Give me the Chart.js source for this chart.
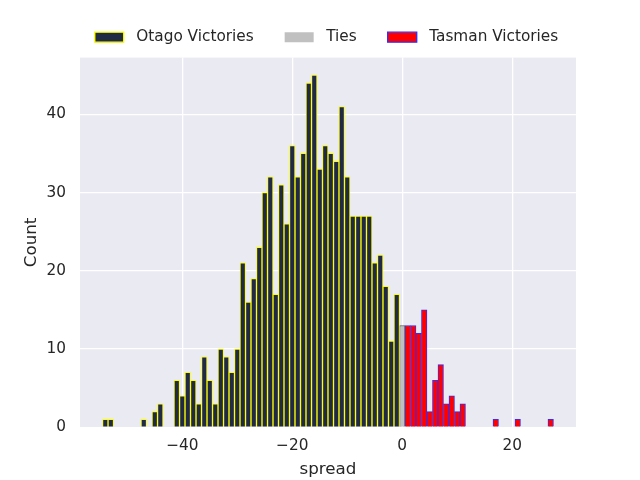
<!DOCTYPE html>
<html>
<head>
<meta charset="utf-8">
<script src="https://cdn.jsdelivr.net/npm/chart.js@4.4.0/dist/chart.umd.min.js"></script>
<style>
  html, body { margin: 0; padding: 0; background: #ffffff; }
  canvas { display: block; }
</style>
</head>
<body>
<canvas id="spreadChart" width="640" height="480"></canvas>
<script>
// --- Data (counts per spread) ---
const otagoSpreads = [-54, -53, -47, -45, -44,
  -41, -40, -39, -38, -37, -36, -35, -34, -33, -32, -31, -30,
  -29, -28, -27, -26, -25, -24, -23, -22, -21, -20,
  -19, -18, -17, -16, -15, -14, -13, -12, -11, -10,
  -9, -8, -7, -6, -5, -4, -3, -2, -1];
const otagoCounts = [1, 1, 1, 2, 3,
  6, 4, 7, 6, 3, 9, 6, 3, 10, 9, 7, 10,
  21, 16, 19, 23, 30, 32, 17, 31, 26, 36,
  32, 35, 44, 45, 33, 36, 35, 34, 41, 32,
  27, 27, 27, 27, 21, 22, 18, 11, 17];
const tieSpreads = [0];
const tieCounts = [13];
const tasmanSpreads = [1, 2, 3, 4, 5, 6, 7, 8, 9, 10, 11, 17, 21, 27];
const tasmanCounts = [13, 13, 12, 15, 2, 6, 8, 3, 4, 2, 3, 1, 1, 1];

const xTicks = [-40, -20, 0, 20];
const yTicks = [0, 10, 20, 30, 40];

// axis limits (matplotlib style 5% margins)
const xMin = -58.6, xMax = 31.6;
const yMin = 0, yMax = 47.25;

// --- Layout ---
const legendHeight = 57.6;
const legendShiftY = -1.5;
const textColor = '#262626';

const toPoints = (xs, ys) => xs.map((x, i) => ({ x: x, y: ys[i] }));
const minusSign = v => (v < 0 ? '\u2212' + Math.abs(v) : String(v));

Chart.defaults.font.family = 'DejaVu Sans';
Chart.defaults.color = textColor;

// grey plot panel like seaborn darkgrid
const plotBackground = {
    id: 'plotBackground',
    beforeDraw(chart) {
        const { ctx, chartArea: a } = chart;
        ctx.save();
        ctx.fillStyle = '#eaeaf2';
        ctx.fillRect(a.left, a.top, a.right - a.left, a.bottom - a.top);
        ctx.restore();
    }
};

// legend sits above the plot panel, centred on it
const legendPlacement = {
    id: 'legendPlacement',
    beforeInit(chart) {
        const legend = chart.legend;
        const fit = legend.fit;
        legend.fit = function () {
            fit.call(this);
            this.height = legendHeight;
        };
        const draw = legend.draw;
        legend.draw = function (...args) {
            const a = chart.chartArea;
            const dx = (a.left + a.right) / 2 - (this.left + this.right) / 2;
            chart.ctx.save();
            chart.ctx.translate(dx - 1.5, legendShiftY);
            draw.apply(this, args);
            chart.ctx.restore();
        };
    }
};

const gridOpts = { color: '#ffffff', lineWidth: 1.3, drawTicks: false, offset: false };

new Chart(document.getElementById('spreadChart'), {
    type: 'bar',
    data: {
        datasets: [
            { label: 'Otago Victories', data: toPoints(otagoSpreads, otagoCounts),
              backgroundColor: '#202a44', borderColor: '#ffff00', borderWidth: 1 },
            { label: 'Ties', data: toPoints(tieSpreads, tieCounts),
              backgroundColor: '#c0c0c0', borderColor: '#5a5a5a', borderWidth: 1 },
            { label: 'Tasman Victories', data: toPoints(tasmanSpreads, tasmanCounts),
              backgroundColor: '#ff0000', borderColor: '#3a2cf0', borderWidth: 1 }
        ]
    },
    options: {
        responsive: false,
        animation: false,
        devicePixelRatio: 1,
        layout: { padding: { left: 0, right: 64, top: 0, bottom: 0 } },
        datasets: {
            bar: { grouped: false, barPercentage: 1, categoryPercentage: 1 }
        },
        plugins: {
            tooltip: { enabled: false },
            legend: {
                position: 'top',
                labels: {
                    font: { size: 15.3 },
                    color: textColor,
                    boxWidth: 29,
                    boxHeight: 10,
                    padding: 31,
                    generateLabels(chart) {
                        const items = Chart.defaults.plugins.legend.labels.generateLabels(chart);
                        return items.map(item => ({
                            ...item,
                            text: ' ' + item.text,
                            lineWidth: item.datasetIndex === 1 ? 0 : 1.4
                        }));
                    }
                }
            }
        },
        scales: {
            x: {
                type: 'linear',
                offset: false,
                min: xMin,
                max: xMax,
                afterBuildTicks: s => { s.ticks = xTicks.map(value => ({ value })); },
                afterFit: s => { s.height = 480 - 427.2; },
                grid: gridOpts,
                border: { display: false },
                ticks: { font: { size: 15.3 }, color: textColor, padding: 10, callback: v => minusSign(v) },
                title: { display: true, text: 'spread', font: { size: 16.7 }, color: textColor,
                         padding: { top: 0, bottom: 0 } }
            },
            y: {
                min: yMin,
                max: yMax,
                afterBuildTicks: s => { s.ticks = yTicks.map(value => ({ value })); },
                afterFit: s => { s.width = 80; },
                grid: gridOpts,
                border: { display: false },
                ticks: { font: { size: 15.3 }, color: textColor, padding: 14 },
                title: { display: true, text: 'Count', font: { size: 16.7 }, color: textColor,
                         padding: { top: 22, bottom: 0 } }
            }
        }
    },
    plugins: [plotBackground, legendPlacement]
});
</script>
</body>
</html>
